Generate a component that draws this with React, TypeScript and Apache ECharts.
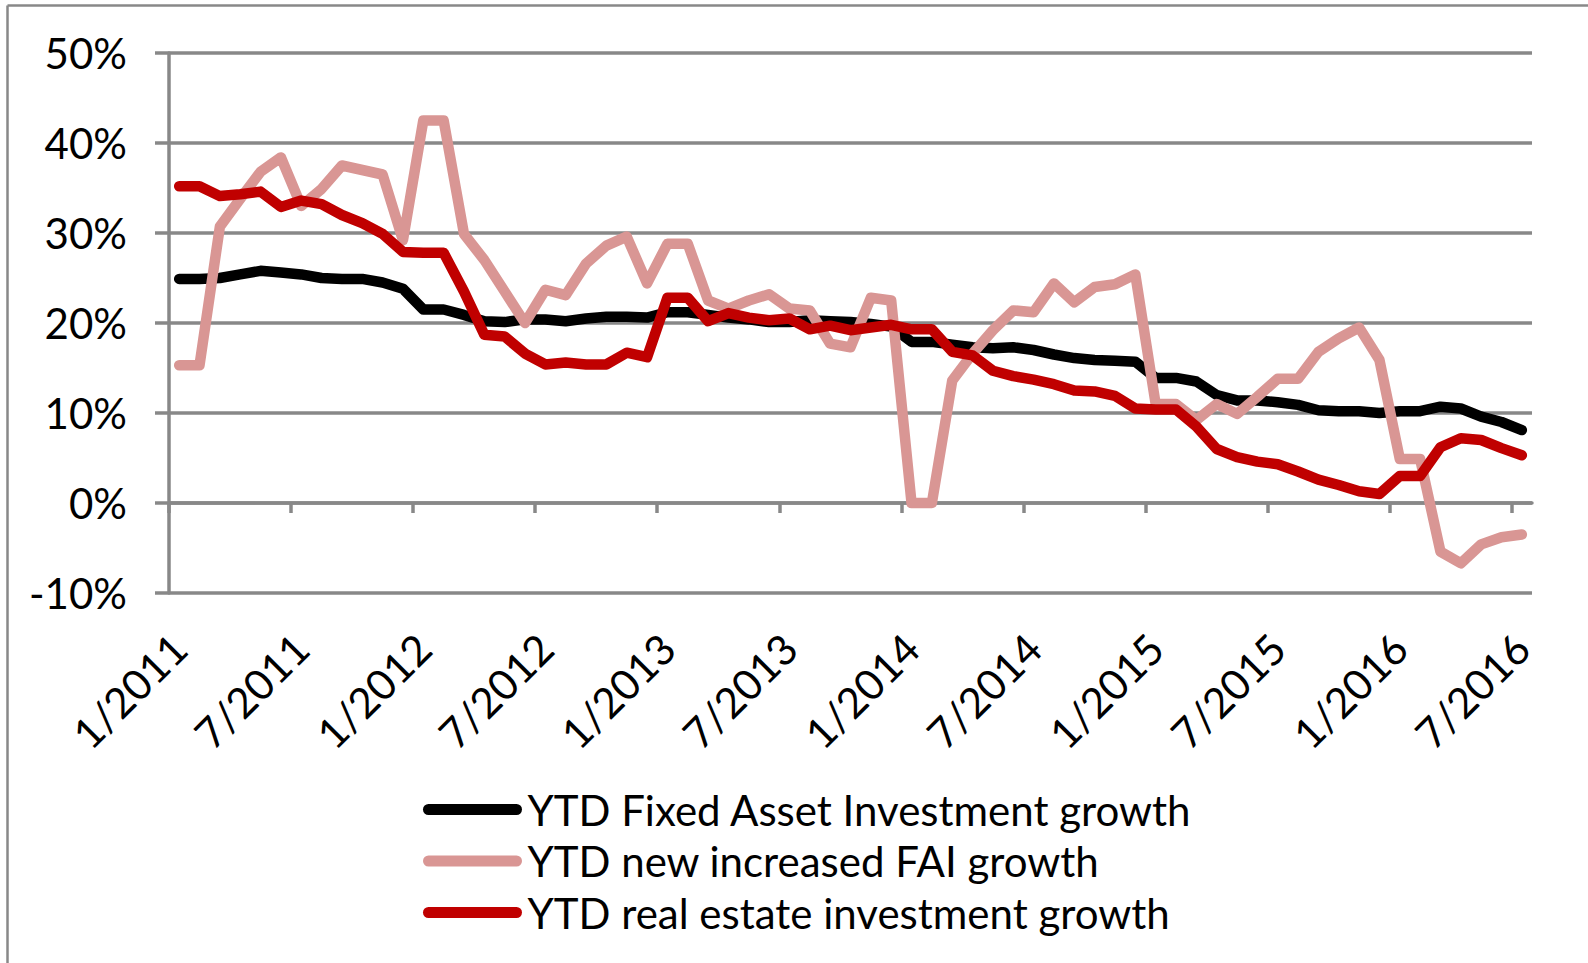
import React, { useEffect, useRef } from "react";
import * as echarts from "echarts";

// Monthly categories 1/2011 .. 7/2016
const years = [2011, 2012, 2013, 2014, 2015, 2016];
const lastMonthOf2016 = 7;
const months: string[] = [];
for (const y of years) {
  const end = y === 2016 ? lastMonthOf2016 : 12;
  for (let m = 1; m <= end; m++) months.push(`${m}/${y}`);
}

const seriesNames = [
  "YTD Fixed Asset Investment growth",
  "YTD new increased FAI growth",
  "YTD real estate investment growth",
];

// YTD Fixed Asset Investment growth (%)
const faiGrowth = [
  24.9, 24.9, 25.0, 25.4, 25.8, 25.6, 25.4, 25.0, 24.9, 24.9, 24.5, 23.8,
  21.5, 21.5, 20.9, 20.2, 20.1, 20.4, 20.4, 20.2, 20.5, 20.7, 20.7, 20.6,
  21.2, 21.2, 20.9, 20.6, 20.4, 20.1, 20.1, 20.3, 20.2, 20.1, 19.9, 19.6,
  17.9, 17.9, 17.6, 17.3, 17.2, 17.3, 17.0, 16.5, 16.1, 15.9, 15.8, 15.7,
  13.9, 13.9, 13.5, 12.0, 11.4, 11.4, 11.2, 10.9, 10.3, 10.2, 10.2, 10.0,
  10.2, 10.2, 10.7, 10.5, 9.6, 9.0, 8.1,
];

// YTD new increased FAI growth (%)
const newFaiGrowth = [
  15.3, 15.3, 30.7, 33.8, 36.8, 38.4, 33.0, 34.9, 37.5, 37.0, 36.5, 29.2,
  42.5, 42.5, 29.9, 27.0, 23.5, 20.0, 23.7, 23.1, 26.6, 28.6, 29.6, 24.4,
  28.8, 28.8, 22.5, 21.6, 22.5, 23.2, 21.6, 21.4, 17.7, 17.3, 22.8, 22.5,
  0.0, 0.0, 13.6, 16.6, 19.2, 21.4, 21.2, 24.4, 22.3, 24.0, 24.3, 25.4,
  11.0, 11.0, 9.2, 11.0, 9.9, 11.8, 13.8, 13.8, 16.8, 18.3, 19.5, 15.9,
  4.9, 4.9, -5.4, -6.7, -4.6, -3.8, -3.5,
];

// YTD real estate investment growth (%)
const realEstateGrowth = [
  35.2, 35.2, 34.1, 34.3, 34.6, 32.9, 33.6, 33.2, 32.0, 31.1, 29.9, 27.9,
  27.8, 27.8, 23.5, 18.7, 18.5, 16.6, 15.4, 15.6, 15.4, 15.4, 16.7, 16.2,
  22.8, 22.8, 20.2, 21.1, 20.6, 20.3, 20.5, 19.3, 19.7, 19.2, 19.5, 19.8,
  19.3, 19.3, 16.8, 16.4, 14.7, 14.1, 13.7, 13.2, 12.5, 12.4, 11.9, 10.5,
  10.4, 10.4, 8.5, 6.0, 5.1, 4.6, 4.3, 3.5, 2.6, 2.0, 1.3, 1.0,
  3.0, 3.0, 6.2, 7.2, 7.0, 6.1, 5.3,
];

const yMin = -10;
const yMax = 50;
const yStep = 10;
const labelEvery = 6;

const colors = ["#000000", "#D99694", "#C00000"];
const gray = "#888888";
const font = "Lato, 'Open Sans', sans-serif";
// rounded bar used as legend key (99 x 11 box)
const legendKey = "path://M5.5,0 L93.5,0 A5.5,5.5 0 0 1 93.5,11 L5.5,11 A5.5,5.5 0 0 1 5.5,0 Z";

export default function App() {
  const ref = useRef<HTMLDivElement>(null);

  useEffect(() => {
    if (!ref.current) return;
    const chart = echarts.init(ref.current, undefined, { renderer: "svg" });
    const tickValues = months.map((_, i) => i).filter((i) => i % labelEvery === 0);
    const data = [faiGrowth, newFaiGrowth, realEstateGrowth];

    chart.setOption({
      animation: false,
      backgroundColor: "#ffffff",
      textStyle: { fontFamily: font },
      graphic: [
        { type: "line", shape: { x1: 7.5, y1: 5.5, x2: 1588, y2: 5.5 }, style: { stroke: gray, lineWidth: 2.5 } },
        { type: "line", shape: { x1: 7.5, y1: 5.5, x2: 7.5, y2: 963 }, style: { stroke: gray, lineWidth: 2.5 } },
      ],
      grid: { left: 169, right: 56, top: 53, bottom: 370, containLabel: false },
      legend: {
        orient: "vertical",
        left: 423,
        top: 786.5,
        padding: 0,
        itemWidth: 100,
        itemHeight: 11,
        itemGap: 5.5,
        textStyle: { fontFamily: font, fontSize: 42, lineHeight: 46, color: "#000" },
        data: seriesNames.map((name) => ({ name, icon: legendKey })),
      },
      xAxis: [
        {
          type: "category",
          data: months,
          boundaryGap: true,
          axisLine: { show: false, onZero: false },
          axisTick: { show: false },
          splitLine: { show: false },
          axisLabel: {
            interval: labelEvery - 1,
            rotate: 45,
            align: "right",
            verticalAlign: "middle",
            margin: 48,
            fontSize: 42,
            fontFamily: font,
            color: "#000",
          },
        },
        {
          type: "value",
          min: 0,
          max: months.length,
          position: "bottom",
          axisLine: { show: true, onZero: true, lineStyle: { color: gray, width: 3.5 } },
          axisTick: { show: true, customValues: tickValues, length: 10, lineStyle: { color: gray, width: 3.5 } },
          axisLabel: { show: false },
          splitLine: { show: false },
        },
      ],
      yAxis: {
        type: "value",
        min: yMin,
        max: yMax,
        interval: yStep,
        axisLine: { show: true, lineStyle: { color: gray, width: 3.5 } },
        axisTick: { show: true, length: 14, lineStyle: { color: gray, width: 3.5 } },
        splitLine: { show: true, lineStyle: { color: gray, width: 3.5 } },
        axisLabel: {
          formatter: (v: number) => `${v}%`,
          fontSize: 42,
          fontFamily: font,
          color: "#000",
          margin: 42,
        },
      },
      series: seriesNames.map((name, k) => ({
        name,
        type: "line",
        xAxisIndex: 0,
        data: data[k],
        symbol: "none",
        smooth: false,
        color: colors[k],
        itemStyle: { color: colors[k] },
        lineStyle: { color: colors[k], width: 10.5, cap: "round", join: "round" },
        z: 2 + k,
      })),
    });

    return () => chart.dispose();
  }, []);

  return (
    <div
      ref={ref}
      style={{ position: "fixed", left: 0, top: 0, width: 1588, height: 963, background: "#fff" }}
    />
  );
}
